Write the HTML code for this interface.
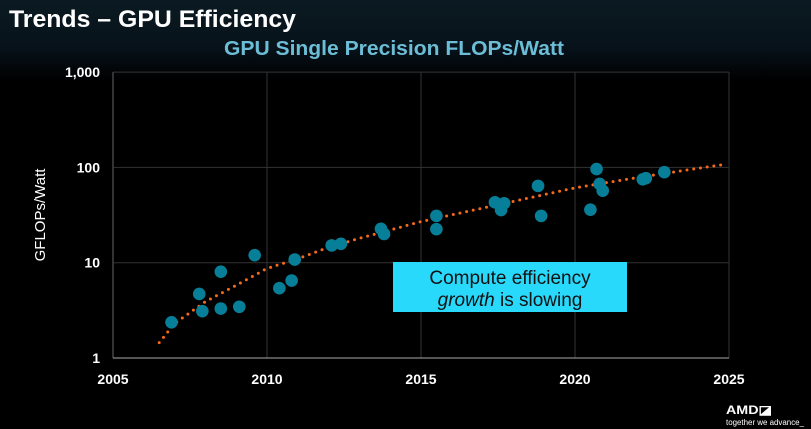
<!DOCTYPE html>
<html><head><meta charset="utf-8"><style>
body{margin:0;width:811px;height:429px;overflow:hidden;background:#000;font-family:"Liberation Sans",sans-serif}
#bg{position:absolute;left:0;top:0;width:811px;height:80px;background:linear-gradient(180deg,#0b1a22 0%,#07121a 60%,#000 100%)}
</style></head><body>
<div id="bg"></div>
<svg width="811" height="429" style="position:absolute;left:0;top:0" id="chart">
<text x="9" y="27" fill="#fff" font-size="24" font-weight="bold" textLength="287" lengthAdjust="spacingAndGlyphs">Trends – GPU Efficiency</text>
<text x="394" y="55" fill="#6cbdd6" font-size="20" font-weight="bold" text-anchor="middle" textLength="340" lengthAdjust="spacingAndGlyphs">GPU Single Precision FLOPs/Watt</text>
<text transform="translate(45,215) rotate(-90)" fill="#fff" font-size="15" text-anchor="middle">GFLOPs/Watt</text>
<g id="grid"></g><g id="trend"></g><g id="pts"></g><g id="ticks"></g>
<rect x="393" y="262" width="234" height="50" fill="#29d9fb"/>
<text x="510" y="284" font-size="19" text-anchor="middle" fill="#111">Compute efficiency</text>
<text x="510" y="306" font-size="19" text-anchor="middle" fill="#111"><tspan font-style="italic">growth</tspan> is slowing</text>
<text x="726" y="414" fill="#fff" font-size="12" font-weight="bold" textLength="46" lengthAdjust="spacingAndGlyphs">AMD◪</text>
<text x="726" y="425" fill="#fff" font-size="8" textLength="78" lengthAdjust="spacingAndGlyphs">together we advance_</text>
</svg>
<script>
const xTicks=[2005,2010,2015,2020,2025];
const yTicks=[1,10,100,1000];
const yTickLabels=["1","10","100","1,000"];
const years=[2006.9,2007.8,2007.9,2008.5,2008.5,2009.1,2009.6,2010.4,2010.8,2010.9,2012.1,2012.4,2013.7,2013.8,2015.5,2015.5,2017.4,2017.7,2017.6,2018.8,2018.9,2020.5,2020.7,2020.8,2020.9,2022.2,2022.3,2022.9];
const values=[2.37,4.7,3.1,8.05,3.3,3.45,12,5.4,6.5,10.8,15.2,15.8,22.7,20,31,22.5,43,42,35.7,64,31,36,96,67,57,75,77,89];
const trendYears=[2006.5,2007,2008,2009,2010,2011,2012,2013,2015,2018,2020,2022,2024.8];
const trendValues=[1.45,2.3,3.9,5.8,8.7,11,14.5,18,27,44,61,78,107];
const X=y=>113+(y-2005)*30.8;
const Y=v=>358-Math.log10(v)*95.3;
const NS="http://www.w3.org/2000/svg";
function mk(t,a,p){const e=document.createElementNS(NS,t);for(const k in a)e.setAttribute(k,a[k]);p.appendChild(e);return e;}
const g=document.getElementById('grid'),tk=document.getElementById('ticks');
xTicks.forEach(t=>{
 if(t>2005){const l=mk('line',{x1:X(t),x2:X(t),y1:Y(1000),y2:Y(1),stroke:'#333','stroke-width':1},g);
 
 }
 const tx=mk('text',{x:X(t),y:384,fill:'#fff','font-size':14,'font-weight':'bold','text-anchor':'middle'},tk);tx.textContent=t;
 
 
});
yTicks.forEach((t,i)=>{
 if(t>1){const l=mk('line',{x1:X(2005),x2:X(2025),y1:Y(t),y2:Y(t),stroke:'#333','stroke-width':1},g);
 
 }
 const tx=mk('text',{x:100,y:Y(t)+5,fill:'#fff','font-size':14,'font-weight':'bold','text-anchor':'end'},tk);tx.textContent=yTickLabels[i];
 
 
});
const ya=mk('line',{x1:X(2005),x2:X(2005),y1:Y(1000),y2:Y(1),stroke:'#444','stroke-width':1.5},g);


const xa=mk('line',{x1:X(2005),x2:X(2025),y1:Y(1),y2:Y(1),stroke:'#aaa','stroke-width':1},g);


const pts=document.getElementById('pts');
years.forEach((yr,i)=>{
 const c=mk('circle',{cx:X(yr),cy:Y(values[i]),r:6.3,fill:'#087f98'},pts);
 
 
});
const tr=mk('polyline',{points:trendYears.map((y,i)=>X(y)+','+Y(trendValues[i])).join(' '),fill:'none',stroke:'#f56a1a','stroke-width':3,'stroke-dasharray':'0 6.8','stroke-linecap':'round'},document.getElementById('trend'));


</script>
</body></html>
